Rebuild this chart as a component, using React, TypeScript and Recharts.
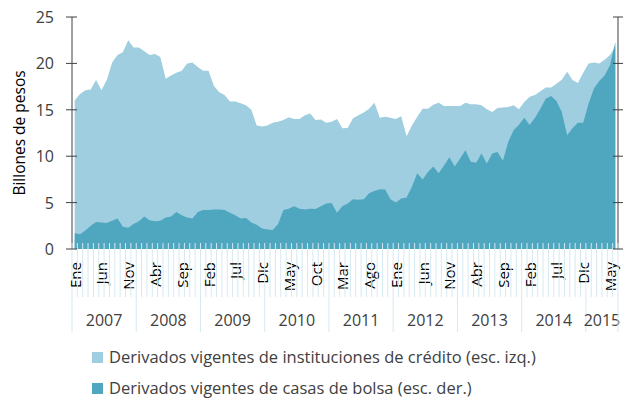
import { AreaChart, Area, XAxis, YAxis, Legend } from "recharts";

// Jan 2007 .. Jun 2015, monthly
const MESES = ["Ene", "Feb", "Mar", "Abr", "May", "Jun", "Jul", "Ago", "Sep", "Oct", "Nov", "Dic"];
const FIRST_YEAR = 2007;

// billones de pesos (esc. izq.)
const credito = [
  16.0, 16.7, 17.1, 17.2, 18.2, 17.1, 18.2, 20.1, 20.9, 21.2, 22.5, 21.7,
  21.7, 21.3, 20.9, 21.0, 20.7, 18.35, 18.7, 19.0, 19.2, 20.0, 20.1, 19.6,
  19.2, 19.2, 17.6, 16.9, 16.6, 15.9, 15.9, 15.7, 15.5, 15.0, 13.3, 13.2,
  13.3, 13.6, 13.7, 13.9, 14.2, 14.0, 14.0, 14.4, 14.6, 13.9, 13.95, 13.6,
  13.7, 14.0, 13.0, 13.05, 14.1, 14.4, 14.7, 15.1, 15.75, 14.15, 14.25, 14.15,
  14.0, 14.3, 12.15, 13.3, 14.25, 15.1, 15.1, 15.55, 15.75, 15.4, 15.4, 15.4,
  15.4, 15.75, 15.6, 15.6, 15.5, 15.05, 14.75, 15.2, 15.25, 15.3, 15.5, 15.05,
  15.85, 16.4, 16.6, 17.0, 17.4, 17.4, 17.8, 18.25, 19.1, 18.2, 17.9, 19.0,
  20.0, 20.1, 20.0, 20.4, 20.9, 21.8,
];

// casas de bolsa (esc. der.), read against the same gridline positions
const bolsa = [
  1.7, 1.6, 2.0, 2.5, 2.9, 2.85, 2.8, 3.05, 3.3, 2.4, 2.3, 2.7,
  3.0, 3.5, 3.1, 3.0, 3.05, 3.4, 3.5, 4.0, 3.65, 3.4, 3.3, 4.0,
  4.2, 4.2, 4.25, 4.25, 4.2, 3.9, 3.65, 3.3, 3.35, 2.85, 2.6, 2.2,
  2.1, 2.05, 2.7, 4.2, 4.35, 4.6, 4.35, 4.25, 4.35, 4.3, 4.6, 4.9,
  4.95, 3.9, 4.6, 4.9, 5.35, 5.3, 5.35, 6.0, 6.25, 6.45, 6.4, 5.35,
  5.0, 5.45, 5.55, 6.7, 8.15, 7.5, 8.3, 8.9, 8.15, 9.0, 9.9, 8.9,
  9.75, 10.65, 9.4, 9.3, 10.3, 9.2, 10.3, 10.45, 9.5, 11.55, 12.8, 13.4,
  14.15, 13.35, 14.15, 15.1, 16.2, 16.5, 15.95, 14.75, 12.25, 13.0, 13.6, 13.6,
  15.65, 17.3, 18.1, 18.7, 19.8, 22.3,
];

const Y_TICKS = [0, 5, 10, 15, 20, 25];

const FONT = "'Open Sans', Lato, sans-serif";
const TEXT = "#404040";
const LIGHT = "#9ecee0";
const DARK = "#4fa6bf";
const GRID = "#d5eaf2";

const PLOT_LEFT = 72;
const PLOT_RIGHT = 618;
const BAND = (PLOT_RIGHT - PLOT_LEFT) / credito.length;

const data = credito.map((v, i) => ({
  mes: MESES[i % 12],
  year: FIRST_YEAR + Math.floor(i / 12),
  credito: v,
  bolsa: bolsa[i],
}));

// index of the tick whose left edge is the middle of each year's months
const yearLabelAt: Record<number, number> = {};
{
  const first: Record<number, number> = {};
  const last: Record<number, number> = {};
  data.forEach((d, i) => {
    if (first[d.year] === undefined) first[d.year] = i;
    last[d.year] = i;
  });
  Object.keys(first).forEach((y) => {
    const yr = Number(y);
    yearLabelAt[Math.floor((first[yr] + last[yr] + 1) / 2)] = yr;
  });
}

function MonthTick(props: any) {
  const { x, y, index } = props;
  const d = data[index];
  const left = x - BAND / 2;
  const isJan = index % 12 === 0;
  const isLast = index === data.length - 1;
  const yearIdx = yearLabelAt[index];
  return (
    <g>
      <line x1={left} x2={left} y1={y - 6} y2={isJan ? y + 83 : y + 48} stroke={GRID} />
      {isLast && (
        <line x1={x + BAND / 2} x2={x + BAND / 2} y1={y - 6} y2={y + 83} stroke={GRID} />
      )}
      {index % 5 === 0 && (
        <text
          transform={`translate(${x},${y + 13}) rotate(-90)`}
          textAnchor="end"
          dominantBaseline="central"
          fontSize={15}
          fontFamily={FONT}
          fill="#000"
        >
          {d.mes}
        </text>
      )}
      {yearIdx !== undefined && (
        <text
          x={left}
          y={y + 71}
          textAnchor="middle"
          dominantBaseline="central"
          fontSize={16}
          fontFamily={FONT}
          fill={TEXT}
        >
          {yearIdx}
        </text>
      )}
    </g>
  );
}

function LeftTick(props: any) {
  const { x, y, payload } = props;
  return (
    <g>
      <line x1={x - 6} x2={x + 5} y1={y} y2={y} stroke={TEXT} />
      <text
        x={x - 18}
        y={y}
        textAnchor="end"
        dominantBaseline="central"
        fontSize={16}
        fontFamily={FONT}
        fill={TEXT}
      >
        {payload.value}
      </text>
    </g>
  );
}

function RightTick(props: any) {
  const { x, y } = props;
  return <line x1={x - 5} x2={x + 5} y1={y} y2={y} stroke={TEXT} />;
}

function LegendBox() {
  const items = [
    { color: LIGHT, text: "Derivados vigentes de instituciones de crédito (esc. izq.)" },
    { color: DARK, text: "Derivados vigentes de casas de bolsa (esc. der.)" },
  ];
  return (
    <div style={{ position: "relative", height: 60, fontFamily: FONT, fontSize: 16.5, color: TEXT }}>
      {items.map((it, i) => (
        <div
          key={i}
          style={{
            position: "absolute",
            left: 92,
            top: 7 + i * 31,
            height: 20,
            lineHeight: "20px",
            display: "flex",
            alignItems: "center",
            whiteSpace: "nowrap",
          }}
        >
          <span style={{ width: 11, height: 11, background: it.color, marginRight: 6, display: "inline-block" }} />
          {it.text}
        </div>
      ))}
    </div>
  );
}

export default function App() {
  return (
    <div style={{ position: "absolute", left: 0, top: 0, background: "#fff" }}>
      <AreaChart width={636} height={400} data={data} margin={{ top: 17, right: 0, left: 0, bottom: 0 }}>
        <Area
          yAxisId="left"
          type="linear"
          dataKey="credito"
          stroke="none"
          fill={LIGHT}
          fillOpacity={1}
          dot={false}
          activeDot={false}
          isAnimationActive={false}
        />
        <Area
          yAxisId="right"
          type="linear"
          dataKey="bolsa"
          stroke="none"
          fill={DARK}
          fillOpacity={1}
          dot={false}
          activeDot={false}
          isAnimationActive={false}
        />
        <XAxis
          dataKey="mes"
          interval={0}
          height={91}
          padding={{ left: BAND / 2, right: BAND / 2 }}
          axisLine={false}
          tickLine={false}
          tickSize={0}
          tickMargin={0}
          tick={<MonthTick />}
        />
        <YAxis
          yAxisId="left"
          width={72}
          domain={[0, 25]}
          ticks={Y_TICKS}
          interval={0}
          axisLine={{ stroke: TEXT }}
          tickLine={false}
          tickSize={0}
          tickMargin={0}
          tick={<LeftTick />}
          label={{
            value: "Billones de pesos",
            angle: -90,
            position: "insideLeft",
            offset: 19,
            style: { textAnchor: "middle", fontSize: 15.5, fontFamily: FONT, fill: "#000" },
          }}
        />
        <YAxis
          yAxisId="right"
          orientation="right"
          width={18}
          domain={[0, 25]}
          ticks={Y_TICKS}
          interval={0}
          axisLine={{ stroke: TEXT }}
          tickLine={false}
          tickSize={0}
          tickMargin={0}
          tick={<RightTick />}
        />
        <Legend verticalAlign="bottom" align="left" height={60} content={() => <LegendBox />} />
      </AreaChart>
    </div>
  );
}
